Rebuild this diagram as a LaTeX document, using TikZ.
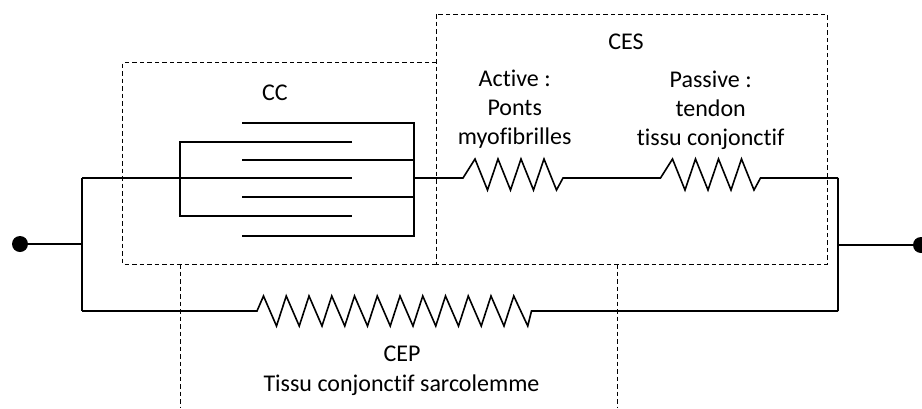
\documentclass[tikz,border=0pt]{standalone}
\usepackage{fontspec}
\setmainfont[Ligatures=NoCommon]{Carlito}
\tikzset{
	fil/.style={draw=black, line width=1.6pt},
	cadre/.style={draw=black, line width=0.9pt, dash pattern=on 4.5pt off 3pt},
	borne/.style={circle, fill=black, inner sep=0pt, minimum size=16pt},
	etiquette/.style={align=center, inner sep=0pt, font=\fontsize{24}{29}\selectfont}
}
\begin{document}
\begin{tikzpicture}[x=1pt, y=-1pt]
	\useasboundingbox (0,0) rectangle (922,408);
	% Cadres en pointilles
	\coordinate (ccA) at (122.5,62.5);
	\coordinate (ccB) at (436.5,264);
	\coordinate (ccC) at (436.5,62.5);
	\coordinate (ccD) at (122.5,264);
	\coordinate (cesA) at (436.5,14);
	\coordinate (cesB) at (827,264);
	\coordinate (cepA) at (180.5,264);
	\coordinate (cepB) at (180.5,408);
	\coordinate (cepC) at (617,264);
	\coordinate (cepD) at (617,408);
	\draw[cadre] (ccC) -- (ccA) -- (ccD) -- (ccB);
	\draw[cadre] (cesA) rectangle (cesB);
	\draw[cadre] (cepA) -- (cepB);
	\draw[cadre] (cepC) -- (cepD);
	% Bornes et noeuds du circuit
	\node[borne] (borneG) at (20,244) {};
	\node[borne] (borneD) at (921,245) {};
	\coordinate (noeudG) at (82,244);
	\coordinate (noeudD) at (838,245);
	\coordinate (hautG) at (82,178);
	\coordinate (basG) at (82,311);
	\coordinate (hautD) at (838,178);
	\coordinate (basD) at (838,311);
	\draw[fil] (borneG) -- (noeudG);
	\draw[fil] (noeudD) -- (borneD);
	\draw[fil, line join=miter] (hautG) -- (basG);
	\draw[fil, line join=miter] (hautD) -- (basD);
	% Peigne gauche
	\coordinate (pgA) at (180,142);
	\coordinate (pgB) at (180,216);
	\coordinate (pgC) at (180,178);
	\coordinate (fgA) at (352,142);
	\coordinate (fgB) at (352,178);
	\coordinate (fgC) at (352,216);
	\draw[fil] (fgA) -- (pgA) -- (pgB) -- (fgC);
	\draw[fil] (hautG) -- (pgC) -- (fgB);
	% Peigne droit
	\coordinate (pdA) at (414,123);
	\coordinate (pdB) at (414,160);
	\coordinate (pdC) at (414,178);
	\coordinate (pdD) at (414,197);
	\coordinate (pdE) at (414,236);
	\coordinate (fdA) at (242,123);
	\coordinate (fdB) at (242,160);
	\coordinate (fdD) at (242,197);
	\coordinate (fdE) at (242,236);
	\draw[fil] (fdA) -- (pdA) -- (pdE) -- (fdE);
	\draw[fil] (fdB) -- (pdB);
	\draw[fil] (fdD) -- (pdD);
	% Branche superieure avec les deux ressorts
	\coordinate (resA) at (463,178);
	\coordinate (resB) at (563,178);
	\coordinate (resC) at (660.5,178);
	\coordinate (resD) at (760.5,178);
	\draw[fil] (pdC) -- (resA) -- ++(12,-19)
		\foreach \i in {1,2,3}{ -- ++(12.5,31) -- ++(10.5,-31)}
		-- ++(12.5,31) -- (resB) -- (resC) -- ++(12,-19)
		\foreach \i in {1,2,3}{ -- ++(12.5,31) -- ++(10.5,-31)}
		-- ++(12.5,31) -- (resD) -- (hautD);
	% Branche inferieure
	\coordinate (resE) at (257,311);
	\coordinate (resF) at (531.5,311);
	\draw[fil] (basG) -- (resE) -- ++(6.5,-15)
		\foreach \i in {1,...,11}{ -- ++(13,30) -- ++(9.75,-30)}
		-- ++(14,30) -- (resF) -- (basD);
	% Etiquettes
	\node[etiquette] (lblCC) at (275,93) {CC};
	\node[etiquette] (lblCES) at (626,42) {CES};
	\node[etiquette] (lblActive) at (514.7,109) {Active :\\Ponts\\myofibrilles};
	\node[etiquette] (lblPassive) at (710.7,110) {Passive :\\tendon\\tissu conjonctif};
	\node[etiquette] (lblCEP) at (402,354) {CEP};
	\node[etiquette] (lblTissu) at (401.5,385) {Tissu conjonctif sarcolemme};
\end{tikzpicture}
\end{document}
